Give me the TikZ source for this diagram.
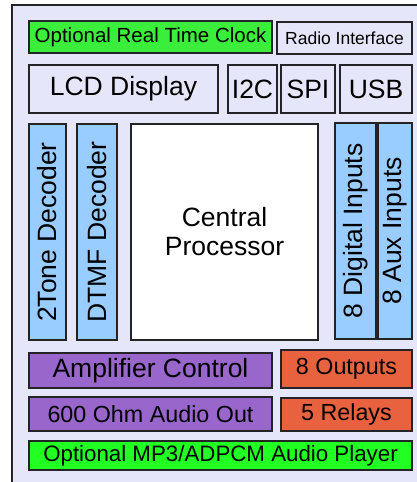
\documentclass[tikz,border=0pt]{standalone}
\usepackage{fontspec}
\setmainfont{Liberation Sans}
\usepackage{tikz}
\usetikzlibrary{positioning}
\definecolor{panelbg}{RGB}{230,230,250}
\definecolor{edgegray}{RGB}{35,35,40}
\definecolor{clockgreen}{RGB}{60,238,60}
\definecolor{playergreen}{RGB}{34,255,34}
\definecolor{inblue}{RGB}{153,204,255}
\definecolor{amppurple}{RGB}{153,102,204}
\definecolor{outred}{RGB}{232,98,64}

\tikzset{
  blk/.style={draw=edgegray, line width=1.6pt, inner sep=0pt, font=\fontsize{26.5}{29}\selectfont},
  midtxt/.style={font=\fontsize{23.3}{26}\selectfont},
  vblk/.style={blk, fill=inblue, rotate=90, minimum width=216pt},
}

\begin{document}
\begin{tikzpicture}[x=1pt,y=1pt,yscale=-1,xscale=1]
\useasboundingbox (0,0) rectangle (417,482);

%Outer panel
\draw [fill=panelbg, draw=edgegray, line width=1.6pt] (12,5) rectangle (440,500) ;

% Top row
\node [blk, fill=clockgreen, minimum width=243pt, minimum height=32pt, font=\fontsize{20.5}{23}\selectfont] (rtc) at (150.5,37) {Optional Real Time Clock};
\node [blk, fill=panelbg, minimum width=135pt, minimum height=32pt, font=\fontsize{17.5}{20}\selectfont] (radio) at (344.5,38) {Radio Interface};

% Second row
\node [blk, fill=panelbg, minimum width=189pt, minimum height=48pt] (lcd) at (123.5,89) {LCD Display};
\node [blk, fill=panelbg, minimum width=49pt, minimum height=48pt] (i2c) at (252.5,89) {I2C};
\node [blk, fill=panelbg, minimum width=54pt, minimum height=48pt] (spi) at (308,89) {SPI};
\node [blk, fill=panelbg, minimum width=72pt, minimum height=48pt] (usb) at (376,89) {USB};

% Middle row
\node [vblk, minimum height=37pt] (tone) at (47.5,232) {2Tone Decoder};
\node [vblk, minimum height=40pt] (dtmf) at (97,232) {DTMF Decoder};
\node [blk, fill=white, minimum width=187pt, minimum height=216pt, align=center] (cpu) at (224.5,232) {Central\\Processor};
\node [vblk, minimum height=41pt] (digin) at (355.5,231) {8 Digital Inputs};
\node [vblk, minimum height=34pt] (auxin) at (395,231) {8 Aux Inputs};

% Bottom rows
\node [blk, fill=amppurple, minimum width=243pt, minimum height=35pt] (amp) at (150.5,370.5) {Amplifier Control};
\node [blk, midtxt, fill=outred, minimum width=131pt, minimum height=38pt] (outs) at (346.5,369) {8 Outputs};
\node [blk, midtxt, fill=amppurple, minimum width=243pt, minimum height=34pt] (audio) at (150.5,414) {600 Ohm Audio Out};
\node [blk, midtxt, fill=outred, minimum width=131pt, minimum height=33pt] (relays) at (346.5,414.5) {5 Relays};
\node [blk, fill=playergreen, minimum width=383pt, minimum height=29pt, font=\fontsize{22.3}{25}\selectfont] (player) at (220.5,455.5) {Optional MP3/ADPCM Audio Player};

\end{tikzpicture}
\end{document}
